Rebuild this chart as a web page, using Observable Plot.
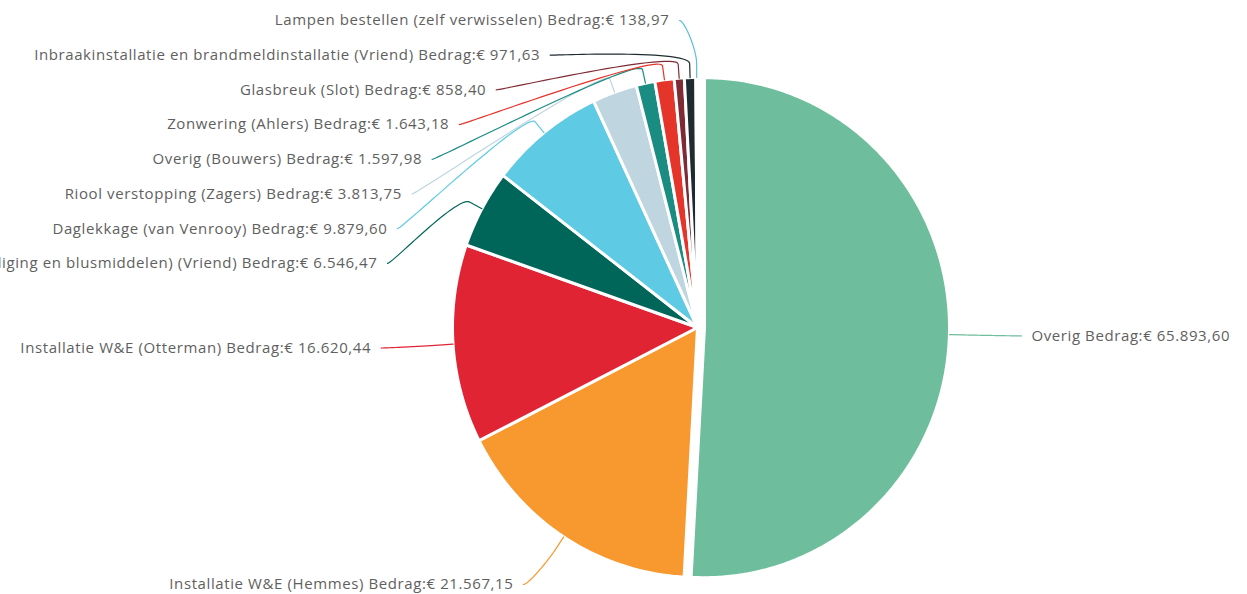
<!DOCTYPE html>
<html>
<head>
<meta charset="utf-8">
<script src="https://cdn.jsdelivr.net/npm/d3@7"></script>
<script src="https://cdn.jsdelivr.net/npm/@observablehq/plot@0.6"></script>
<style>
  html, body { margin: 0; padding: 0; background: #ffffff; }
  #chart svg { display: block; }
</style>
</head>
<body>
<div id="chart"></div>
<script>
// ---- Data ----
const categories = [
  "Overig",
  "Installatie W&E (Hemmes)",
  "Installatie W&E (Otterman)",
  "Onderhoud (brandbeveiliging en blusmiddelen) (Vriend)",
  "Daglekkage (van Venrooy)",
  "Riool verstopping (Zagers)",
  "Overig (Bouwers)",
  "Zonwering (Ahlers)",
  "Glasbreuk (Slot)",
  "Inbraakinstallatie en brandmeldinstallatie (Vriend)",
  "Lampen bestellen (zelf verwisselen)"
];
const amounts = [65893.60, 21567.15, 16620.44, 6546.47, 9879.60, 3813.75, 1597.98, 1643.18, 858.40, 971.63, 138.97];
const sliceColors = ["#6ebd9c", "#f8992f", "#e12434", "#006659", "#5fcae3", "#bfd5df", "#1a8c82", "#e5342a", "#7e2b35", "#1f2b30", "#5bbfdc"];
const slicedCategory = "Overig";

// ---- Layout constants ----
const W = 1247, H = 594;
const cx = 697, cy = 327, rx = 245, ry = 250;
const slicedOffset = 7;
const labelRx = 317, labelRy = 307.5;
const connectorBreak = 14;
const slot = 34.7, topBound = 20, bottomBound = 584;
const textGap = 10;

const nl = d3.formatLocale({decimal: ",", thousands: ".", grouping: [3], currency: ["€", ""]});
const fmt = nl.format(",.2f");

const rows = categories.map((c, i) => ({name: c, amount: amounts[i], color: sliceColors[i]}));
const arcs = d3.pie().sort(null).value(d => d.amount).startAngle(0).endAngle(2 * Math.PI)(rows);

const slices = arcs.map(arc => {
  const d = arc.data;
  const a = (arc.startAngle + arc.endAngle) / 2;
  const sliced = d.name === slicedCategory;
  const ox = sliced ? slicedOffset * Math.sin(a) : 0;
  const oy = sliced ? -slicedOffset * Math.cos(a) : 0;
  const ccx = cx + ox, ccy = cy + oy;
  const n = Math.max(2, Math.ceil((arc.endAngle - arc.startAngle) / 0.01));
  const pts = [{x: ccx, y: ccy}];
  for (let k = 0; k <= n; k++) {
    const ang = arc.startAngle + (arc.endAngle - arc.startAngle) * k / n;
    pts.push({x: ccx + rx * Math.sin(ang), y: ccy - ry * Math.cos(ang)});
  }
  pts.push({x: ccx, y: ccy});
  return {d, a, ox, oy, ccx, ccy, pts, left: Math.sin(a) < 0, yN: cy - Math.cos(a) * labelRy};
});

// distribute labels per side
for (const side of [true, false]) {
  const group = slices.filter(s => s.left === side).sort((p, q) => p.yN - q.yN);
  let prev = -Infinity;
  for (const s of group) {
    let y = Math.max(s.yN, prev + slot, topBound);
    y = Math.min(y, bottomBound);
    s.ly = y;
    prev = y;
  }
}

const labels = [];
const connectors = [];
for (const s of slices) {
  const sign = s.left ? -1 : 1;
  const t = (s.ly - cy) / labelRy;
  const lx = cx + sign * labelRx * Math.sqrt(Math.max(0, 1 - t * t)) + s.ox;
  const ly = s.ly;
  labels.push({
    x: lx + sign * textGap, y: ly,
    text: `${s.d.name} Bedrag:€ ${fmt(s.d.amount)}`,
    anchor: s.left ? "end" : "start"
  });
  const T = {x: s.ccx + rx * Math.sin(s.a), y: s.ccy - ry * Math.cos(s.a)};
  const B = {x: s.ccx + (rx + connectorBreak) * Math.sin(s.a), y: s.ccy - (ry + connectorBreak) * Math.cos(s.a)};
  const P0 = {x: lx, y: ly};
  const P1 = {x: lx - sign * 5, y: ly};
  const P2 = {x: 2 * B.x - T.x, y: 2 * B.y - T.y};
  const P3 = B;
  const m = 30;
  for (let k = 0; k <= m; k++) {
    const u = k / m, v = 1 - u;
    connectors.push({
      name: s.d.name, color: s.d.color,
      x: v*v*v*P0.x + 3*v*v*u*P1.x + 3*v*u*u*P2.x + u*u*u*P3.x,
      y: v*v*v*P0.y + 3*v*v*u*P1.y + 3*v*u*u*P2.y + u*u*u*P3.y
    });
  }
  connectors.push({name: s.d.name, color: s.d.color, x: T.x, y: T.y});
}

const marks = [];
for (const s of slices) {
  marks.push(Plot.line(s.pts, {x: "x", y: "y", fill: s.d.color, stroke: "#ffffff", strokeWidth: 3, strokeLinejoin: "round", curve: "linear"}));
}
for (const s of slices) {
  marks.push(Plot.line(connectors.filter(c => c.name === s.d.name), {x: "x", y: "y", stroke: s.d.color, strokeWidth: 1.2, curve: "linear"}));
}
marks.push(Plot.text(labels.filter(l => l.anchor === "end"), {x: "x", y: "y", text: "text", textAnchor: "end", fill: "#5f5f5f", fontSize: 15}));
marks.push(Plot.text(labels.filter(l => l.anchor === "start"), {x: "x", y: "y", text: "text", textAnchor: "start", fill: "#5f5f5f", fontSize: 15}));

const chart = Plot.plot({
  width: W,
  height: H,
  margin: 0,
  style: {fontFamily: "'Open Sans', sans-serif", fontSize: "15px", letterSpacing: "0.6px", background: "#ffffff", overflow: "hidden"},
  x: {domain: [0, W], range: [0, W], axis: null},
  y: {domain: [0, H], range: [0, H], axis: null},
  marks
});
document.getElementById("chart").appendChild(chart);
</script>
</body>
</html>
